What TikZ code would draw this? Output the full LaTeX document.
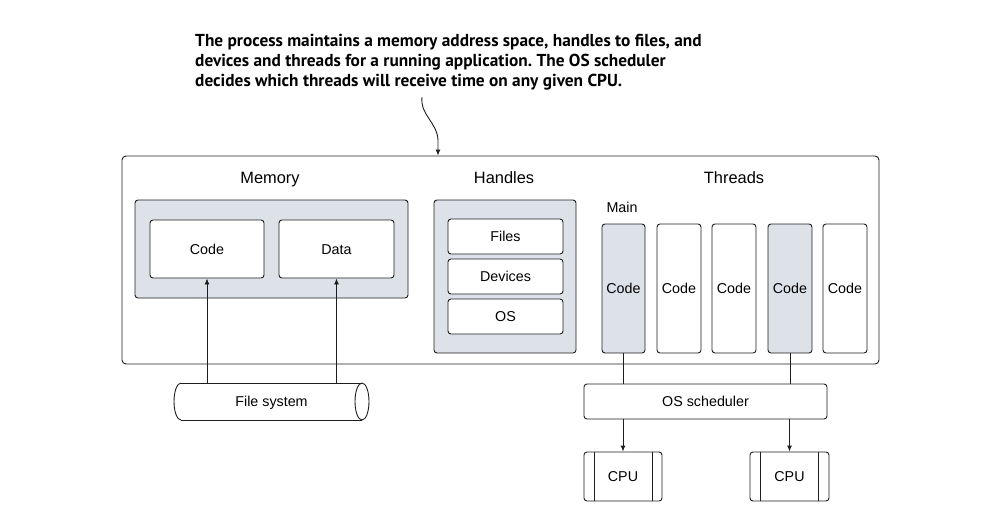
\documentclass[tikz,border=0pt]{standalone}
\usepackage{fontspec}
\setmainfont{Liberation Sans}
\newfontfamily\capfont{PT Sans}
\usetikzlibrary{arrows.meta,calc}
\definecolor{boxgray}{RGB}{221,225,232}
\definecolor{ink}{RGB}{30,30,30}
\frenchspacing
\begin{document}
\begin{tikzpicture}[x=1pt,y=-1pt,
  every node/.style={inner sep=0pt, text=black},
  base/.style={draw=ink, line width=0.9pt, rounded corners=3pt},
  graybox/.style={base, fill=boxgray},
  whitebox/.style={base, fill=white, font=\fontsize{14.3}{16}\selectfont, text height=10.3pt, text depth=0pt},
  header/.style={anchor=base, font=\fontsize{16.4}{18}\selectfont},
  lbl/.style={font=\fontsize{14.3}{16}\selectfont, text height=10.3pt, text depth=0pt},
  conn/.style={draw=ink, line width=0.9pt},
  arr/.style={conn, -{Latex[length=6pt,width=5pt]}}]
\useasboundingbox (0,0) rectangle (1000,517);

% caption
\node[anchor=north west, align=left, font=\capfont\bfseries\fontsize{17.3}{20}\selectfont] (cap) at (195,33.5)
 {The process maintains a memory address space, handles to files, and\\
  devices and threads for a running application. The OS scheduler\\
  decides which threads will receive time on any given CPU.};

% outer process box
\node[base, rounded corners=4pt, minimum width=757pt, minimum height=208pt] (proc) at (500.5,260) {};

\coordinate (cs) at (422,97);
\draw[arr] (cs) .. controls (420,115) and (437,122) .. (438,140) -- (proc.north -| 438,0);

% headers
\node[header] (hmem) at (270,183) {Memory};
\node[header] (hhan) at (504,183) {Handles};
\node[header] (hthr) at (734,183) {Threads};

% memory
\node[graybox, minimum width=273pt, minimum height=98pt] (mem) at (271.5,249) {};
\node[whitebox, minimum width=114pt, minimum height=58pt] (code) at (207,249) {Code};
\node[whitebox, minimum width=115pt, minimum height=58pt] (data) at (336.5,249) {Data};

% handles
\node[graybox, minimum width=142pt, minimum height=153pt] (han) at (505,276.5) {};
\node[whitebox, minimum width=115pt, minimum height=35pt] (files) at (505.5,236.5) {Files};
\node[whitebox, minimum width=115pt, minimum height=35pt] (dev) at (505.5,276.5) {Devices};
\node[whitebox, minimum width=115pt, minimum height=35pt] (os) at (505.5,316.5) {OS};

% threads
\node[lbl] (main) at (622,207) {Main};
\node[whitebox, fill=boxgray, minimum width=43pt, minimum height=129pt] (t1) at (623.5,288.5) {Code};
\node[whitebox, minimum width=44pt, minimum height=129pt] (t2) at (679,288.5) {Code};
\node[whitebox, minimum width=44pt, minimum height=129pt] (t3) at (734,288.5) {Code};
\node[whitebox, fill=boxgray, minimum width=44pt, minimum height=129pt] (t4) at (790,288.5) {Code};
\node[whitebox, minimum width=44pt, minimum height=129pt] (t5) at (845,288.5) {Code};

% file system cylinder
\node[lbl, minimum width=195pt, minimum height=37pt] (fs) at (271.5,401.5) {File system};
\draw[conn] (181,383) -- (362,383);
\draw[conn] (181,420) -- (362,420);
\draw[conn] (181,383) arc[start angle=90, end angle=270, x radius=7pt, y radius=18.5pt];
\draw[conn] (362,401.5) ellipse [x radius=7pt, y radius=18.5pt];

\draw[arr] (code.south |- fs.north) -- (code.south);
\draw[arr] (data.south |- fs.north) -- (data.south);

% scheduler
\node[whitebox, minimum width=243pt, minimum height=35pt] (sched) at (705.5,401.5) {OS scheduler};
\draw[conn] (t1.south) -- (t1.south |- sched.north);
\draw[conn] (t4.south) -- (t4.south |- sched.north);

% CPUs
\node[whitebox, minimum width=78pt, minimum height=49pt] (cpu1) at (623,476.5) {CPU};
\node[whitebox, minimum width=79pt, minimum height=49pt] (cpu2) at (789.5,476.5) {CPU};
\draw[conn] ($(cpu1.north west)+(11,0)$) -- ($(cpu1.south west)+(11,0)$);
\draw[conn] ($(cpu1.north east)+(-10,0)$) -- ($(cpu1.south east)+(-10,0)$);
\draw[conn] ($(cpu2.north west)+(11,0)$) -- ($(cpu2.south west)+(11,0)$);
\draw[conn] ($(cpu2.north east)+(-11,0)$) -- ($(cpu2.south east)+(-11,0)$);

\draw[arr] (cpu1.north |- sched.south) -- (cpu1.north);
\draw[arr] (cpu2.north |- sched.south) -- (cpu2.north);
\end{tikzpicture}
\end{document}
